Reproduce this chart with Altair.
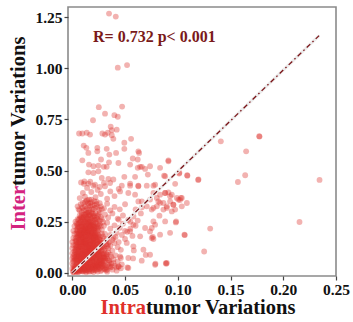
import altair as alt
import pandas as pd

# (intratumor, intertumor) pairs, grouped by region
core_low = [(0.001,0.002),(0.002,0.008),(0.003,0.004),(0.004,0.015),(0.005,0.010),(0.006,0.003),(0.007,0.020),(0.008,0.012),(0.009,0.030),(0.010,0.006),(0.011,0.018),(0.012,0.035),(0.013,0.010),(0.014,0.025),(0.015,0.042),(0.016,0.015),(0.017,0.030),(0.018,0.008),(0.019,0.040),(0.020,0.020),(0.021,0.033),(0.022,0.012),(0.023,0.045),(0.024,0.028),(0.025,0.018),(0.026,0.038),(0.027,0.008),(0.028,0.030),(0.029,0.045),(0.030,0.020),(0.031,0.035),(0.032,0.012),(0.034,0.040),(0.036,0.025),(0.038,0.015),(0.040,0.035),(0.042,0.010),(0.044,0.030),(0.002,0.030),(0.004,0.040),(0.006,0.045),(0.003,0.022),(0.008,0.038),(0.010,0.048),(0.013,0.002),(0.016,0.005),(0.020,0.003),(0.024,0.006),(0.033,0.005),(0.046,0.022)]
core_mid = [(0.001,0.055),(0.003,0.065),(0.004,0.080),(0.005,0.095),(0.006,0.060),(0.007,0.072),(0.008,0.088),(0.009,0.055),(0.010,0.098),(0.011,0.068),(0.012,0.082),(0.013,0.058),(0.014,0.092),(0.015,0.075),(0.016,0.062),(0.017,0.085),(0.018,0.097),(0.019,0.068),(0.020,0.055),(0.021,0.080),(0.022,0.092),(0.023,0.065),(0.024,0.078),(0.025,0.058),(0.026,0.088),(0.027,0.070),(0.028,0.095),(0.029,0.060),(0.030,0.082),(0.031,0.072),(0.033,0.090),(0.035,0.060),(0.037,0.078),(0.039,0.065),(0.041,0.085),(0.002,0.090),(0.008,0.052),(0.012,0.095),(0.016,0.098),(0.020,0.088),(0.034,0.100),(0.043,0.055),(0.046,0.072),
            (0.002,0.105),(0.003,0.120),(0.004,0.138),(0.005,0.112),(0.006,0.148),(0.007,0.125),(0.008,0.108),(0.009,0.140),(0.010,0.118),(0.011,0.132),(0.012,0.102),(0.013,0.145),(0.014,0.115),(0.015,0.128),(0.016,0.140),(0.017,0.108),(0.018,0.122),(0.019,0.135),(0.020,0.148),(0.021,0.112),(0.022,0.128),(0.023,0.142),(0.024,0.105),(0.025,0.118),(0.026,0.135),(0.028,0.125),(0.030,0.110),(0.032,0.140),(0.034,0.120),(0.036,0.132),(0.038,0.108),(0.040,0.145),(0.043,0.125),(0.046,0.112),(0.011,0.148),(0.015,0.103),(0.019,0.118),(0.027,0.147)]
core_high = [(0.003,0.155),(0.004,0.172),(0.005,0.190),(0.006,0.160),(0.007,0.182),(0.008,0.165),(0.009,0.195),(0.010,0.152),(0.011,0.175),(0.012,0.188),(0.013,0.162),(0.014,0.198),(0.015,0.170),(0.016,0.185),(0.017,0.155),(0.018,0.178),(0.019,0.192),(0.020,0.165),(0.021,0.180),(0.022,0.158),(0.023,0.195),(0.024,0.172),(0.025,0.185),(0.027,0.160),(0.029,0.178),(0.031,0.190),(0.033,0.165),(0.036,0.185),(0.039,0.170),(0.042,0.195),(0.012,0.158),(0.018,0.199),
             (0.004,0.210),(0.005,0.235),(0.006,0.222),(0.007,0.245),(0.008,0.205),(0.009,0.228),(0.010,0.240),(0.011,0.212),(0.012,0.232),(0.013,0.248),(0.014,0.218),(0.015,0.238),(0.016,0.205),(0.017,0.228),(0.018,0.245),(0.019,0.215),(0.020,0.235),(0.021,0.208),(0.022,0.242),(0.024,0.222),(0.026,0.238),(0.028,0.210),(0.030,0.230),(0.033,0.245),(0.036,0.215),(0.040,0.232),(0.045,0.220),(0.050,0.205),
             (0.005,0.262),(0.007,0.280),(0.008,0.255),(0.009,0.295),(0.010,0.270),(0.011,0.285),(0.012,0.258),(0.013,0.275),(0.014,0.292),(0.015,0.265),(0.016,0.282),(0.017,0.252),(0.018,0.298),(0.019,0.270),(0.020,0.288),(0.022,0.260),(0.024,0.278),(0.026,0.295),(0.028,0.262),(0.031,0.285),(0.034,0.270),(0.038,0.290),(0.043,0.265),(0.048,0.280),(0.053,0.258)]
core_top = [(0.006,0.310),(0.008,0.335),(0.010,0.318),(0.012,0.345),(0.013,0.305),(0.015,0.328),(0.017,0.340),(0.019,0.312),(0.021,0.332),(0.023,0.348),(0.025,0.308),(0.027,0.325),(0.030,0.315),(0.033,0.338),(0.036,0.305),(0.040,0.322),(0.045,0.310),(0.050,0.335),
            (0.007,0.365),(0.010,0.390),(0.012,0.372),(0.014,0.415),(0.016,0.358),(0.018,0.395),(0.020,0.425),(0.022,0.370),(0.024,0.405),(0.027,0.385),(0.030,0.440),(0.033,0.362),(0.036,0.398),(0.040,0.375),(0.044,0.410),(0.011,0.435),(0.017,0.445),(0.026,0.420)]
core_dense = [(0.002,0.012),(0.003,0.018),(0.004,0.006),(0.005,0.025),(0.006,0.014),(0.007,0.008),(0.008,0.022),(0.009,0.016),(0.010,0.028),(0.011,0.009),(0.012,0.020),(0.013,0.032),(0.014,0.014),(0.015,0.024),(0.016,0.036),(0.017,0.018),(0.018,0.028),(0.019,0.012),(0.020,0.038),(0.021,0.024),(0.022,0.030),(0.023,0.016),(0.024,0.040),(0.025,0.032),(0.026,0.022),(0.027,0.044),(0.028,0.014),(0.030,0.040),(0.032,0.026),(0.001,0.010),(0.002,0.020),(0.003,0.032),(0.005,0.004),(0.007,0.036),(0.009,0.044),(0.011,0.040),(0.013,0.046),(0.015,0.008),(0.017,0.046),(0.019,0.026),(0.021,0.014),(0.023,0.034),(0.025,0.046),(0.027,0.026),(0.029,0.034),(0.031,0.018),(0.035,0.032),(0.037,0.044),
              (0.002,0.060),(0.003,0.078),(0.004,0.092),(0.005,0.068),(0.006,0.085),(0.007,0.058),(0.008,0.075),(0.009,0.095),(0.010,0.062),(0.011,0.088),(0.012,0.070),(0.013,0.080),(0.014,0.065),(0.015,0.095),(0.016,0.078),(0.017,0.068),(0.018,0.085),(0.019,0.058),(0.020,0.075),(0.021,0.095),(0.022,0.062),(0.023,0.088),(0.024,0.070),(0.025,0.098),(0.026,0.066),(0.027,0.082),(0.028,0.058),(0.029,0.090),(0.031,0.064),(0.032,0.080),(0.005,0.052),(0.010,0.080),(0.014,0.052),(0.018,0.064),(0.022,0.078),(0.030,0.095),(0.033,0.070),(0.036,0.088),
              (0.003,0.110),(0.004,0.128),(0.005,0.145),(0.006,0.118),(0.007,0.135),(0.008,0.128),(0.009,0.112),(0.010,0.142),(0.011,0.105),(0.012,0.125),(0.013,0.118),(0.014,0.138),(0.015,0.112),(0.016,0.122),(0.017,0.145),(0.018,0.110),(0.019,0.128),(0.020,0.118),(0.021,0.140),(0.022,0.108),(0.023,0.125),(0.024,0.138),(0.025,0.112),(0.026,0.122),(0.027,0.105),(0.029,0.135),(0.031,0.118),(0.033,0.130),(0.007,0.102),(0.013,0.132),(0.017,0.120),(0.021,0.125),(0.026,0.148),
              (0.004,0.158),(0.005,0.178),(0.006,0.195),(0.007,0.165),(0.008,0.185),(0.009,0.170),(0.010,0.188),(0.011,0.160),(0.012,0.178),(0.013,0.195),(0.014,0.168),(0.015,0.185),(0.016,0.158),(0.017,0.175),(0.018,0.190),(0.019,0.162),(0.020,0.182),(0.021,0.196),(0.022,0.170),(0.023,0.160),(0.024,0.188),(0.026,0.175),(0.028,0.190),(0.030,0.165),(0.010,0.168),(0.015,0.198),(0.020,0.152),
              (0.005,0.215),(0.006,0.240),(0.007,0.225),(0.008,0.232),(0.009,0.210),(0.010,0.222),(0.011,0.245),(0.012,0.215),(0.013,0.230),(0.014,0.242),(0.015,0.212),(0.016,0.225),(0.017,0.240),(0.018,0.218),(0.019,0.232),(0.020,0.212),(0.021,0.228),(0.023,0.215),(0.025,0.230),(0.012,0.202),(0.016,0.248),(0.020,0.245),
              (0.008,0.272),(0.010,0.258),(0.012,0.285),(0.013,0.262),(0.015,0.278),(0.016,0.295),(0.018,0.265),(0.020,0.275),(0.022,0.290),(0.024,0.262)]
core_dense2 = [(0.001,0.004),(0.002,0.016),(0.003,0.010),(0.004,0.028),(0.005,0.018),(0.006,0.034),(0.007,0.014),(0.008,0.030),(0.009,0.008),(0.010,0.040),(0.011,0.026),(0.012,0.012),(0.013,0.038),(0.014,0.048),(0.015,0.030),(0.016,0.020),(0.017,0.052),(0.018,0.038),(0.019,0.054),(0.020,0.030),(0.021,0.046),(0.022,0.040),(0.023,0.024),(0.024,0.052),(0.025,0.038),(0.026,0.056),(0.028,0.046),(0.004,0.050),(0.008,0.056),(0.012,0.054),(0.006,0.024),(0.010,0.016),
               (0.002,0.072),(0.003,0.100),(0.004,0.066),(0.005,0.084),(0.006,0.104),(0.007,0.090),(0.008,0.116),(0.009,0.078),(0.010,0.108),(0.011,0.076),(0.012,0.110),(0.013,0.090),(0.014,0.104),(0.015,0.086),(0.016,0.112),(0.017,0.096),(0.018,0.074),(0.019,0.106),(0.020,0.098),(0.021,0.068),(0.022,0.116),(0.023,0.100),(0.024,0.090),(0.025,0.108),(0.026,0.078),(0.028,0.110),(0.030,0.072),(0.009,0.066),(0.013,0.070),(0.017,0.116),(0.006,0.076),
               (0.003,0.135),(0.004,0.150),(0.005,0.125),(0.006,0.172),(0.007,0.150),(0.008,0.140),(0.009,0.158),(0.010,0.132),(0.011,0.150),(0.012,0.165),(0.013,0.140),(0.014,0.155),(0.015,0.145),(0.016,0.168),(0.017,0.135),(0.018,0.155),(0.019,0.145),(0.020,0.170),(0.021,0.155),(0.022,0.140),(0.023,0.175),(0.024,0.152),(0.025,0.165),(0.027,0.138),(0.008,0.175),(0.012,0.138),(0.016,0.130),
               (0.004,0.192),(0.005,0.205),(0.006,0.185),(0.007,0.205),(0.008,0.195),(0.009,0.185),(0.010,0.205),(0.011,0.195),(0.012,0.220),(0.013,0.185),(0.014,0.205),(0.015,0.195),(0.016,0.215),(0.017,0.190),(0.018,0.205),(0.019,0.182),(0.020,0.200),(0.021,0.218),(0.022,0.188),(0.024,0.205),(0.009,0.238),(0.013,0.212),(0.017,0.222)]
core_dense3 = [(0.000,0.020),(0.000,0.045),(0.000,0.070),(0.000,0.095),(0.001,0.035),(0.001,0.080),(0.033,0.015),(0.035,0.050),(0.037,0.028),(0.039,0.048),(0.034,0.062),(0.030,0.055),(0.027,0.062),(0.023,0.052),(0.019,0.080),(0.015,0.062),(0.011,0.058),(0.007,0.082),(0.004,0.058),(0.025,0.085),(0.029,0.075),(0.032,0.092),(0.013,0.098),(0.009,0.088),
               (0.000,0.120),(0.000,0.150),(0.001,0.135),(0.001,0.170),(0.002,0.190),(0.004,0.112),(0.006,0.132),(0.008,0.152),(0.010,0.175),(0.012,0.148),(0.014,0.128),(0.016,0.178),(0.018,0.140),(0.020,0.130),(0.022,0.182),(0.024,0.122),(0.026,0.160),(0.028,0.145),(0.030,0.128),(0.032,0.155),(0.034,0.140),(0.009,0.125),(0.013,0.182),(0.017,0.160),(0.021,0.170),(0.025,0.142),(0.019,0.195),(0.011,0.198),(0.007,0.192),(0.003,0.165),
               (0.001,0.205),(0.002,0.228),(0.003,0.250),(0.004,0.240),(0.005,0.225),(0.006,0.258),(0.007,0.212),(0.008,0.248),(0.009,0.268),(0.010,0.212),(0.011,0.228),(0.012,0.250),(0.013,0.220),(0.014,0.265),(0.015,0.250),(0.016,0.235),(0.017,0.270),(0.018,0.230),(0.019,0.255),(0.020,0.225),(0.021,0.260),(0.022,0.222),(0.023,0.248),(0.024,0.238),(0.025,0.212),(0.026,0.255),(0.027,0.228),(0.029,0.248),(0.011,0.272),(0.013,0.288),(0.015,0.295),(0.017,0.282),(0.019,0.292),(0.021,0.278),(0.023,0.268),(0.009,0.282),(0.007,0.265),(0.025,0.285),(0.027,0.272),
               (0.005,0.325),(0.007,0.305),(0.009,0.320),(0.010,0.342),(0.011,0.305),(0.012,0.325),(0.013,0.350),(0.014,0.315),(0.015,0.340),(0.016,0.308),(0.017,0.325),(0.018,0.345),(0.019,0.330),(0.020,0.310),(0.021,0.350),(0.022,0.318),(0.023,0.335),(0.024,0.322),(0.026,0.340),(0.028,0.310),(0.014,0.355),(0.018,0.358)]
diagonal = [(0.035,0.150),(0.038,0.160),(0.041,0.175),(0.044,0.150),(0.047,0.185),(0.050,0.165),(0.052,0.200),(0.055,0.215),(0.057,0.180),(0.060,0.230),(0.048,0.240),(0.044,0.260),(0.055,0.250),(0.058,0.275),(0.062,0.255),(0.065,0.290),(0.060,0.310),(0.066,0.320)]
upper = [(0.0348,1.268),(0.0412,1.253),(0.0431,1.003),(0.0519,1.016),(0.0251,0.810),(0.0472,0.813),(0.031,0.778),(0.0399,0.771),(0.0431,0.763),(0.0196,0.746),(0.0364,0.714),(0.0374,0.697),(0.0421,0.700),
         (0.0064,0.681),(0.0095,0.681),(0.0137,0.685),(0.0168,0.676),(0.0285,0.681),(0.031,0.676),(0.0336,0.685),(0.0374,0.673),(0.0389,0.655),(0.0557,0.655),(0.0493,0.636),
         (0.0108,0.622),(0.0133,0.611),(0.0237,0.611),(0.0326,0.606),(0.0493,0.606),(0.0152,0.586),(0.0237,0.594),(0.0415,0.586),(0.0351,0.578),(0.0633,0.586),(0.0573,0.559),
         (0.0095,0.550),(0.0272,0.554),(0.0348,0.540),(0.0158,0.529),(0.020,0.521),(0.0247,0.524),(0.0298,0.518),(0.0326,0.518),(0.0437,0.537),(0.062,0.554),(0.062,0.513),(0.069,0.508),(0.0659,0.518),
         (0.0152,0.491),(0.020,0.488),(0.0247,0.496),(0.0279,0.464),(0.0342,0.459),(0.0389,0.456),(0.0493,0.469),(0.0595,0.469),(0.0716,0.480),
         (0.0083,0.442),(0.0114,0.447),(0.0152,0.436),(0.0215,0.431),(0.031,0.423),(0.0358,0.439),(0.0469,0.426),(0.0548,0.426),(0.0626,0.426),(0.0769,0.426)]
spread = [(0.0911,0.550),(0.0626,0.594),(0.0548,0.529),(0.0643,0.518),(0.0737,0.521),(0.0832,0.513),(0.088,0.472),(0.1015,0.489),(0.1196,0.456),
          (0.0548,0.436),(0.0626,0.423),(0.0706,0.426),(0.0785,0.431),(0.0453,0.398),(0.0531,0.390),(0.0595,0.382),
          (0.0659,0.349),(0.0737,0.358),(0.0801,0.366),(0.088,0.390),(0.0927,0.374),(0.0832,0.342),(0.0896,0.325),(0.0958,0.333),(0.1006,0.358),(0.0864,0.309),(0.0943,0.300),(0.1038,0.325),(0.0769,0.317),(0.0706,0.325),(0.0626,0.349),(0.1038,0.366),(0.102,0.356),
          (0.087,0.475),(0.1091,0.475),(0.0975,0.435),
          (0.0769,0.390),(0.0832,0.382),(0.088,0.390),(0.0911,0.393),(0.0943,0.382),(0.0991,0.366),(0.1029,0.366),(0.0816,0.349),(0.0864,0.341),(0.0927,0.349),(0.0958,0.333),(0.1086,0.341),(0.0801,0.325),(0.0896,0.317),(0.0975,0.309),(0.0753,0.309),
          (0.0826,0.279),(0.088,0.251),(0.0984,0.251),(0.0753,0.219),(0.0785,0.235),
          (0.069,0.219),(0.0737,0.202),(0.0832,0.186),(0.0927,0.195),(0.0769,0.251),(0.0579,0.235),(0.0548,0.202),(0.0643,0.178),
          (0.0516,0.146),(0.0579,0.129),(0.0674,0.113),(0.0737,0.088),(0.0896,0.048),(0.0453,0.080),(0.0531,0.072),(0.0437,0.031),(0.0531,0.023),
          (0.0763,0.175),(0.0788,0.044),(0.0886,0.047),(0.0696,0.087),(0.0658,0.059),(0.0522,0.026),(0.0421,0.026),(0.0583,0.109),(0.0576,0.070),(0.0469,0.041),
          (0.0753,0.170),(0.0769,0.165),(0.0785,0.039),(0.089,0.044)]
outliers = [(0.1408,0.643),(0.1772,0.668),(0.1775,0.666),(0.1648,0.594),(0.1639,0.477),(0.157,0.444),(0.2344,0.454),(0.2154,0.248),(0.1307,0.216),(0.125,0.104),(0.1193,0.454),(0.1089,0.477),(0.1013,0.485),(0.0911,0.545),(0.1063,0.186),(0.1066,0.184),(0.0981,0.246)]

fit_x = [0.0, 0.234]
fit_y = [0.0, 1.16]

x_ticks = [0.0, 0.05, 0.10, 0.15, 0.20, 0.25]
y_ticks = [0.0, 0.25, 0.50, 0.75, 1.00, 1.25]

pts = (core_low + core_mid + core_high + core_top + core_dense + core_dense2 + core_dense3
       + diagonal + upper + spread + outliers)
df = pd.DataFrame(pts, columns=["intra", "inter"])
fit = pd.DataFrame({"intra": fit_x, "inter": fit_y})

FONT = "Liberation Serif"
xs = alt.Scale(domain=[-0.0041, 0.25], nice=False, zero=False)
ys = alt.Scale(domain=[-0.016, 1.30], nice=False, zero=False)

xax = alt.Axis(values=x_ticks, format=".2f", title=None, grid=False, domain=False,
               tickColor="#444", tickSize=4, tickWidth=1.2, labelFont=FONT, labelFontWeight="bold",
               labelFontSize=15.5, labelColor="#111", labelPadding=2, labelFlush=False)
yax = alt.Axis(values=y_ticks, format=".2f", title=None, grid=False, domain=False,
               tickColor="#444", tickSize=4, tickWidth=1.2, labelFont=FONT, labelFontWeight="bold",
               labelFontSize=15.5, labelColor="#111", labelPadding=2)

points = alt.Chart(df).mark_circle(size=34, color="#dc3530", opacity=0.38).encode(
    x=alt.X("intra:Q", scale=xs, axis=xax),
    y=alt.Y("inter:Q", scale=ys, axis=yax),
)

band = alt.Chart(fit).mark_line(color="#ececec", strokeWidth=3).encode(
    x=alt.X("intra:Q", scale=xs), y=alt.Y("inter:Q", scale=ys))
fitline = alt.Chart(fit).mark_line(color="#7a1216", strokeWidth=1.3,
                                   strokeDash=[5, 3, 1.5, 3]).encode(
    x=alt.X("intra:Q", scale=xs), y=alt.Y("inter:Q", scale=ys))

def txt(s, x, y, color, size, align, angle=0):
    return alt.Chart(pd.DataFrame({"t": [s]})).mark_text(
        text=s, font=FONT, fontWeight="bold", fontSize=size, color=color,
        align=align, baseline="alphabetic", angle=angle).encode(
        x=alt.value(x), y=alt.value(y))

ann = txt("R= 0.732 p< 0.001", 25, 35, "#7a1a1a", 16, "left")
xt1 = txt("Intra", 78, 307, "#e0302a", 20.5, "right")
xt2 = txt("tumor Variations", 78, 307, "#111111", 20.5, "left")
yt1 = txt("Inter", -43, 179, "#d4237f", 20.5, "right", 270)
yt2 = txt("tumor Variations", -43, 179, "#111111", 20.5, "left", 270)

chart = alt.layer(points, band, fitline, ann, xt1, xt2, yt1, yt2).properties(
    width=268, height=269,
    autosize=alt.AutoSizeParams(type="none"),
    padding={"left": 68, "top": 7, "right": 17, "bottom": 46},
    background="white",
).configure_view(stroke="#8a8a8a", strokeWidth=1.6)

chart.save("out.html", embed_options={"renderer": "svg", "actions": False})
